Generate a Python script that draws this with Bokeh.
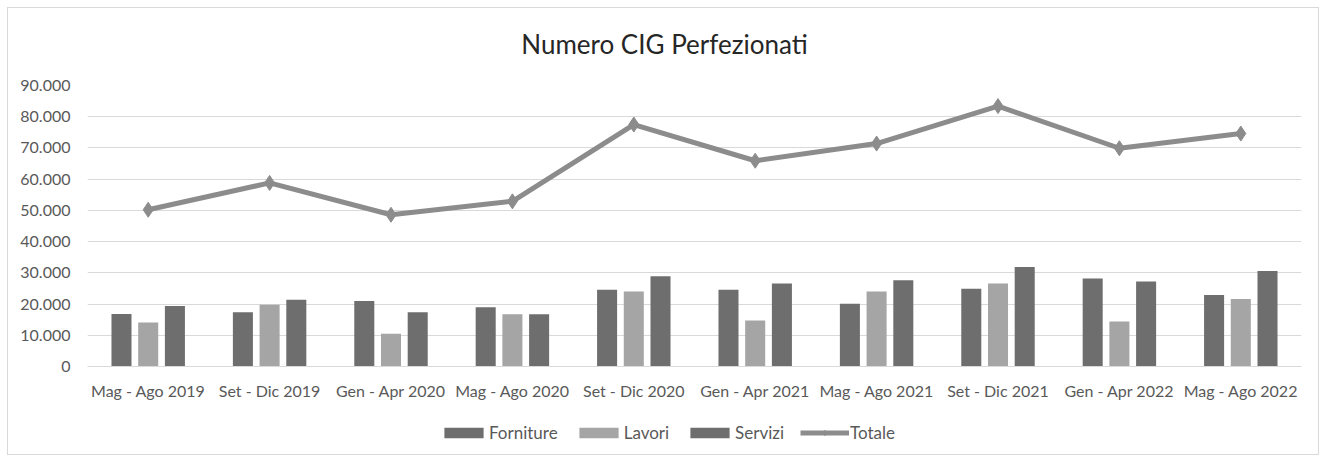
from bokeh.plotting import figure
from bokeh.layouts import column
from bokeh.models import (ColumnDataSource, FactorRange, Range1d, FixedTicker, Legend,
                          LegendItem, Label)
from bokeh.transform import dodge
from bokeh.embed import file_html
from bokeh.resources import INLINE

title_text = "Numero CIG Perfezionati"
categories = ["Mag - Ago 2019", "Set - Dic 2019", "Gen - Apr 2020", "Mag - Ago 2020",
              "Set - Dic 2020", "Gen - Apr 2021", "Mag - Ago 2021", "Set - Dic 2021",
              "Gen - Apr 2022", "Mag - Ago 2022"]
forniture = [16800, 17400, 21000, 19000, 24600, 24600, 20100, 24900, 28200, 22900]
lavori = [14100, 19800, 10500, 16700, 24000, 14700, 24000, 26600, 14400, 21600]
servizi = [19400, 21400, 17400, 16700, 28900, 26600, 27600, 31900, 27200, 30600]
totale = [50200, 58800, 48600, 52900, 77500, 65900, 71400, 83400, 69900, 74600]
y_ticks = [0, 10000, 20000, 30000, 40000, 50000, 60000, 70000, 80000, 90000]
y_tick_labels = ["0", "10.000", "20.000", "30.000", "40.000", "50.000",
                 "60.000", "70.000", "80.000", "90.000"]
series_names = ["Forniture", "Lavori", "Servizi", "Totale"]

FONT = "Lato"
TEXT = "#595959"
DARK = "#6e6e6e"
LIGHT = "#a5a5a5"
LINE = "#8c8c8c"
W = 1310
BL, BR = 79, 17

src = ColumnDataSource(dict(cat=categories, forniture=forniture, lavori=lavori,
                            servizi=servizi, totale=totale))

# header strip with the title
tf = figure(width=W, height=60, x_range=Range1d(0, W - BL - BR), y_range=Range1d(0, 60),
            output_backend="svg", toolbar_location=None, x_axis_type=None, y_axis_type=None,
            min_border_left=BL, min_border_right=BR, min_border_top=0, min_border_bottom=0)
tf.outline_line_color = None
tf.xgrid.grid_line_color = None
tf.ygrid.grid_line_color = None
tf.add_layout(Label(x=577, y=25, text=title_text, text_align="center",
                    text_baseline="alphabetic", text_font=FONT, text_font_size="26px",
                    text_color="#262626"))

# main chart
p = figure(width=W, height=341, x_range=FactorRange(*categories),
           y_range=Range1d(0, 90000), output_backend="svg", toolbar_location=None,
           min_border_left=BL, min_border_right=BR, min_border_top=17, min_border_bottom=43)
p.outline_line_color = None
p.x_range.range_padding = 0
p.x_range.group_padding = 0

w = 0.165
r1 = p.vbar(x=dodge("cat", -0.22, range=p.x_range), top="forniture", width=w, source=src,
            fill_color=DARK, line_color=None)
r2 = p.vbar(x=dodge("cat", 0.0, range=p.x_range), top="lavori", width=w, source=src,
            fill_color=LIGHT, line_color=None)
r3 = p.vbar(x=dodge("cat", 0.22, range=p.x_range), top="servizi", width=w, source=src,
            fill_color=DARK, line_color=None)
r4 = p.line(x="cat", y="totale", source=src, line_color=LINE, line_width=5)
r5 = p.scatter(x="cat", y="totale", source=src, marker="diamond", size=15,
               fill_color=LINE, line_color=LINE)

p.yaxis.ticker = FixedTicker(ticks=y_ticks)
p.yaxis.major_label_overrides = dict(zip(y_ticks, y_tick_labels))
p.yaxis.axis_line_color = None
p.yaxis.major_tick_line_color = None
p.yaxis.minor_tick_line_color = None
p.yaxis.major_tick_out = 0
p.yaxis.major_tick_in = 0
p.yaxis.major_label_text_font = FONT
p.yaxis.major_label_text_font_size = "16px"
p.yaxis.major_label_text_color = TEXT
p.yaxis.major_label_standoff = 17

p.xaxis.axis_line_color = "#d9d9d9"
p.xaxis.major_tick_line_color = None
p.xaxis.minor_tick_line_color = None
p.xaxis.major_tick_out = 0
p.xaxis.major_tick_in = 0
p.xaxis.major_label_text_font = FONT
p.xaxis.major_label_text_font_size = "16px"
p.xaxis.major_label_text_color = TEXT
p.xaxis.major_label_standoff = 14

p.xgrid.grid_line_color = None
p.ygrid.grid_line_color = "#d9d9d9"
p.ygrid.grid_line_width = 1

# legend strip: a figure whose ranges show none of its marks, holding only the legend
lf = figure(width=W, height=45, x_range=FactorRange(*categories),
            y_range=Range1d(-2e6, -1.99e6),
            output_backend="svg", toolbar_location=None, x_axis_type=None, y_axis_type=None,
            min_border_left=BL, min_border_right=BR, min_border_top=0, min_border_bottom=0)
lf.outline_line_color = None
lf.xgrid.grid_line_color = None
lf.ygrid.grid_line_color = None
l1 = lf.vbar(x="cat", top="forniture", width=0, source=src, fill_color=DARK, line_color=None)
l2 = lf.vbar(x="cat", top="lavori", width=0, source=src, fill_color=LIGHT, line_color=None)
l3 = lf.vbar(x="cat", top="servizi", width=0, source=src, fill_color=DARK, line_color=None)
l4 = lf.line(x="cat", y="totale", source=src, line_color=LINE, line_width=5)
l5 = lf.scatter(x="cat", y="totale", source=src, marker="diamond", size=15,
                fill_color=LINE, line_color=LINE)

legend = Legend(items=[LegendItem(label=series_names[0], renderers=[l1]),
                       LegendItem(label=series_names[1], renderers=[l2]),
                       LegendItem(label=series_names[2], renderers=[l3]),
                       LegendItem(label=series_names[3], renderers=[l4, l5])],
                orientation="horizontal", location=(352, 11),
                label_text_font=FONT, label_text_font_size="17px", label_text_color=TEXT,
                glyph_width=49, glyph_height=13, spacing=16, label_standoff=1,
                border_line_color=None, background_fill_alpha=0, margin=0, padding=0)
lf.add_layout(legend)

layout = column(tf, p, lf, spacing=0)
layout.styles = {"border": "1px solid #d9d9d9", "margin": "7px 0 0 7px"}

open("out.html", "w").write(file_html(layout, INLINE))
